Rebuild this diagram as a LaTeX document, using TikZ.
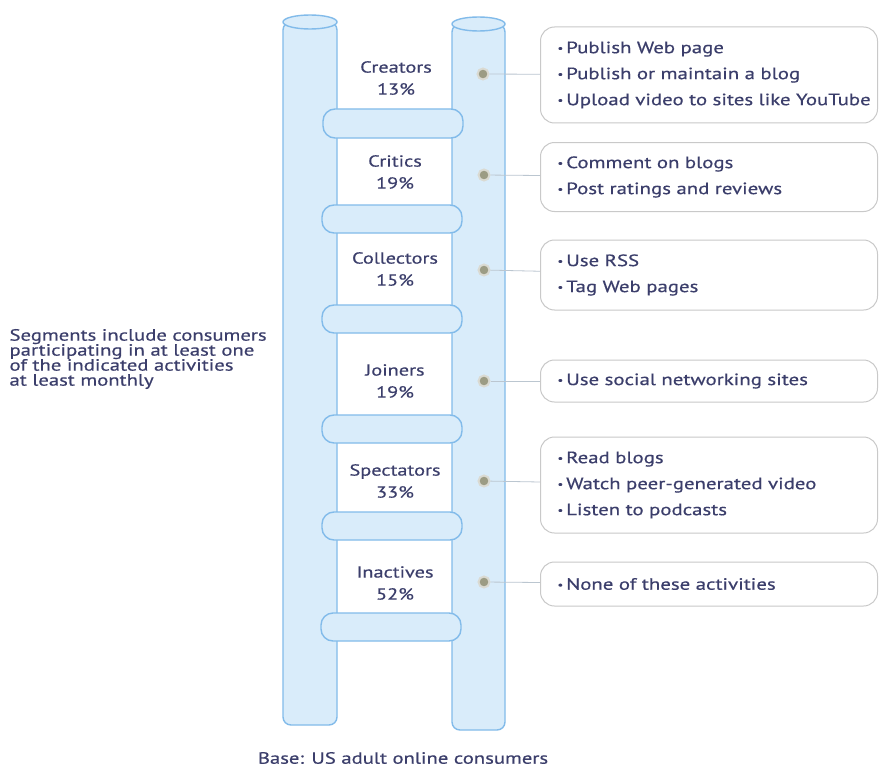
\documentclass[tikz,border=0pt]{standalone}
\usepackage{fontspec}
\setmainfont{PT Sans}[FakeStretch=1.27, FakeBold=0.5]
\usepackage{xcolor}
\usepackage{tikz}
\definecolor{poleblue}{HTML}{D9ECFA}
\definecolor{poleline}{HTML}{82BBEA}
\definecolor{ink}{HTML}{3B3E6B}
\definecolor{boxline}{HTML}{C9C9C9}
\definecolor{dotfill}{HTML}{9C9C84}
\definecolor{dotring}{HTML}{DADAD2}

\newcommand{\itm}{\hspace*{11pt}\raisebox{1.5pt}{\fontsize{10}{10}\selectfont\textbullet}\kern3pt}

\tikzset{
  pole/.style={fill=poleblue, draw=poleline, line width=1.4pt},
  rung/.style={fill=poleblue, draw=poleline, line width=1.4pt, rounded corners=12},
  seg/.style={text=ink, align=center, font=\fontsize{16}{22}\selectfont},
  dot/.style={circle, fill=dotfill, draw=dotring, line width=2pt, minimum size=11pt, inner sep=0pt},
  box/.style={draw=boxline, line width=1pt, rounded corners=14, anchor=west, text=ink,
    align=left, text width=325pt, inner xsep=6pt, font=\fontsize{16.4}{26}\selectfont},
  link/.style={draw=boxline!80!poleline, line width=0.8pt}
}

\begin{document}
\begin{tikzpicture}[x=1pt, y=-1pt]
\useasboundingbox (0,0) rectangle (880,773);
\fill[white] (0,0) rectangle (880,773);

\filldraw[pole, rounded corners=8] (283,22) -- (283,725) -- (337,725) -- (337,22) -- cycle;
\filldraw[pole] (310,22) ellipse (27 and 7);
\filldraw[pole, rounded corners=8] (452,24) -- (452,730) -- (505,730) -- (505,24) -- cycle;
\filldraw[pole] (478.5,24) ellipse (26.5 and 7);

\filldraw[rung] (323,109) rectangle (463,138);
\filldraw[rung] (322,205) rectangle (462,233);
\filldraw[rung] (322,305) rectangle (462,333);
\filldraw[rung] (322,415) rectangle (462,443);
\filldraw[rung] (322,512) rectangle (462,540);
\filldraw[rung] (321,613) rectangle (461,641);

\node (cre) at (396,78) [seg] {Creators\\13\%};
\node (cri) at (395,172) [seg] {Critics\\19\%};
\node (col) at (395,269) [seg] {Collectors\\15\%};
\node (joi) at (395,381) [seg] {Joiners\\19\%};
\node (spe) at (395,481) [seg] {Spectators\\33\%};
\node (ina) at (395,583) [seg] {Inactives\\52\%};

\node (d1) at (483,74) [dot] {};
\node (d2) at (484,175) [dot] {};
\node (d3) at (484,270) [dot] {};
\node (d4) at (484,381) [dot] {};
\node (d5) at (484,481) [dot] {};
\node (d6) at (484,582) [dot] {};

\node (b1) at (540,75) [box, minimum height=96pt] {\itm Publish Web page\\\itm Publish or maintain a blog\\\itm Upload video to sites like YouTube};
\node (b2) at (540,177) [box, minimum height=69pt] {\itm Comment on blogs\\\itm Post ratings and reviews};
\node (b3) at (540,275) [box, minimum height=70pt] {\itm Use RSS\\\itm Tag Web pages};
\node (b4) at (540,381) [box, minimum height=42pt] {\itm Use social networking sites};
\node (b5) at (540,485) [box, minimum height=96pt] {\itm Read blogs\\\itm Watch peer-generated video\\\itm Listen to podcasts};
\node (b6) at (540,584) [box, minimum height=44pt] {\itm None of these activities};

\draw[link] (d1) -- (b1);
\draw[link] (d2) -- (b2);
\draw[link] (d3) -- (b3);
\draw[link] (d4) -- (b4);
\draw[link] (d5) -- (b5);
\draw[link] (d6) -- (b6);

\node (note) at (6,359) [anchor=west, align=left, text=ink, font=\fontsize{16.3}{15}\selectfont] {Segments include consumers\\participating in at least one\\of the indicated activities\\at least monthly};
\node (base) at (403,758) [text=ink, font=\fontsize{16.3}{18}\selectfont] {Base: US adult online consumers};
\end{tikzpicture}
\end{document}
